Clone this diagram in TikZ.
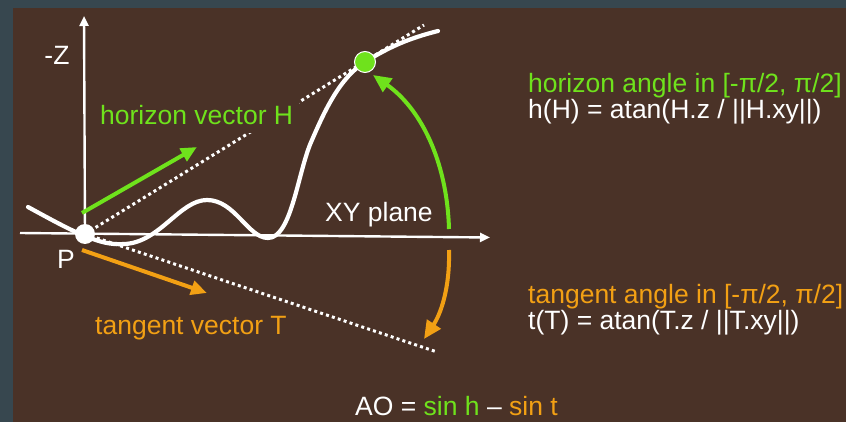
\documentclass[tikz,border=0pt]{standalone}
\usepackage{fontspec}
\setmainfont{Liberation Sans}
\usetikzlibrary{arrows.meta}
\definecolor{frame}{HTML}{37474F}
\definecolor{bgbrown}{HTML}{4A3227}
\definecolor{hgreen}{HTML}{6FE21C}
\definecolor{torange}{HTML}{F2A014}
\tikzset{
  txt/.style={font=\fontsize{26.5}{30}\selectfont, inner sep=0pt},
  axis/.style={white, line width=2.4pt, -{Triangle[length=10pt,width=9pt]}},
  dots/.style={white, line width=3pt, dash pattern=on 3pt off 3.2pt},
  vec/.style={line width=4pt, -{Triangle[length=16pt,width=14pt]}},
  arcarrow/.style={line width=4pt, -{Triangle[length=18pt,width=16pt]}},
}
\begin{document}
\begin{tikzpicture}[x=1pt,y=-1pt]
\fill[frame] (0,0) rectangle (846,422);
\fill[bgbrown] (13,8) rectangle (846,422);
\useasboundingbox (0,0) rectangle (846,422);

\coordinate (P) at (85,234);
\coordinate (G) at (365,62);
\coordinate (xl) at (20,233);
\coordinate (xr) at (490,237.5);
\coordinate (zt) at (84,16);
\coordinate (hend) at (424,25);
\coordinate (tend) at (437,352);

% dotted lines
\draw[dots] (P) -- (hend);
\draw[dots] (P) -- (tend);

% label that hides part of the dotted line
\node[txt, hgreen, anchor=base west, fill=bgbrown, inner xsep=6pt, inner ysep=8pt] (hvlab) at (94,125) {horizon vector H};

% axes
\draw[axis] (xl) -- (xr);
\draw[axis] (P) -- (zt);

% curve
\draw[white, line width=4.2pt, line cap=round]
  (28,207) .. controls (50,219) and (70,230) .. (85,236)
  .. controls (100,242) and (110,245) .. (125,244)
  .. controls (160,242) and (180,200) .. (207,200)
  .. controls (235,200) and (248,238) .. (268,238)
  .. controls (292,238) and (298,170) .. (312,140)
  .. controls (325,110) and (340,77.6) .. (365,62)
  .. controls (390,46.4) and (410,38) .. (438,31);

% vectors
\coordinate (hv0) at (82,213);
\coordinate (hv1) at (197,147);
\coordinate (tv0) at (82,250);
\coordinate (tv1) at (207,293);
\draw[vec, hgreen] (hv0) -- (hv1);
\draw[vec, torange] (tv0) -- (tv1);

% angle arcs
\coordinate (ga0) at (449,229);
\coordinate (ga1) at (373,75);
\coordinate (oa0) at (449,250);
\coordinate (oa1) at (424,339);
\draw[arcarrow, hgreen] (ga0) .. controls (447,160) and (420,108) .. (ga1);
\draw[arcarrow, torange] (oa0) .. controls (450,290) and (440,315) .. (oa1);

% points
\node[circle, fill=white, minimum size=20pt, inner sep=0pt] (Pdot) at (P) {};
\node[circle, fill=hgreen, draw=white, line width=1pt, minimum size=21pt, inner sep=0pt] (Gdot) at (G) {};

% labels
\node[txt, white, anchor=base] (zlab) at (57,65) {-Z};
\node[txt, white, anchor=base] (plab) at (66,268) {P};
\node[txt, torange, anchor=base west] (tvlab) at (95,334) {tangent vector T};
\node[txt, white, anchor=base west] (xylab) at (325,222) {XY plane};
\node[txt, hgreen, anchor=base west] (hang) at (528,93) {horizon angle in [-π/2, π/2]};
\node[txt, white, anchor=base west] (hform) at (528,119) {h(H) = atan(H.z / ||H.xy||)};
\node[txt, torange, anchor=base west] (tang) at (528,303) {tangent angle in [-π/2, π/2]};
\node[txt, white, anchor=base west] (tform) at (528,329) {t(T) = atan(T.z / ||T.xy||)};
\node[txt, anchor=base west] (ao) at (355,415) {\color{white}AO = \color{hgreen}sin h \color{white}– \color{torange}sin t};
\end{tikzpicture}
\end{document}
